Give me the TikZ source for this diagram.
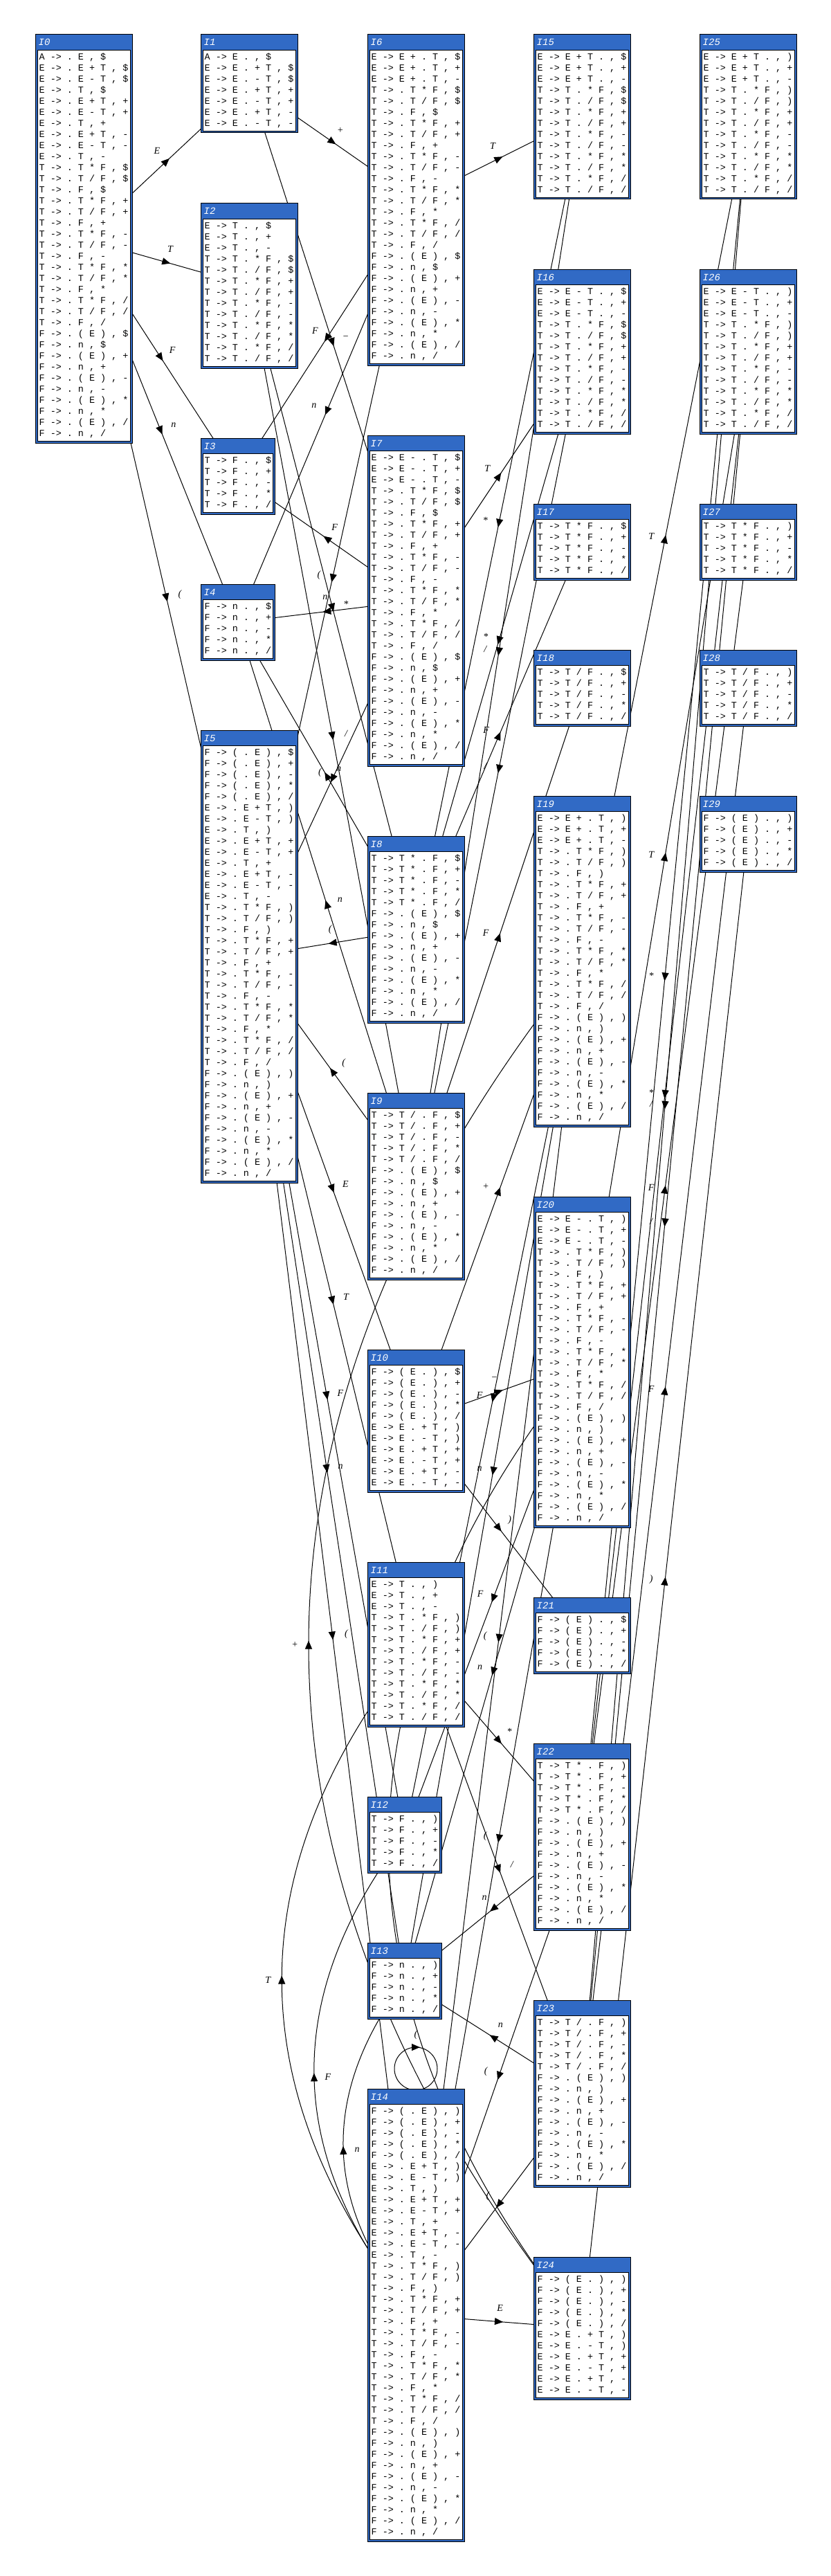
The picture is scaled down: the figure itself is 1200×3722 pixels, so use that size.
\documentclass[tikz,border=0pt]{standalone}
\usepackage{fontspec}
\usetikzlibrary{arrows.meta,calc}
\newfontfamily\monofont{Liberation Mono}
\newfontfamily\labfont{Liberation Serif}
\definecolor{hdr}{RGB}{49,106,197}
\frenchspacing
% lookahead groups
\newcommand\lkC[1]{#1{\$}\\#1{+}\\#1{-}}
\newcommand\lkCb[1]{#1{)}\\#1{+}\\#1{-}}
\newcommand\lkF[1]{#1{\$}\\#1{+}\\#1{-}\\#1{*}\\#1{/}}
\newcommand\lkFb[1]{#1{)}\\#1{+}\\#1{-}\\#1{*}\\#1{/}}
% closures
\newcommand\qE[1]{E -> . E + T , #1\\E -> . E - T , #1\\E -> . T , #1}
\newcommand\qT[1]{T -> . T * F , #1\\T -> . T / F , #1\\T -> . F , #1}
\newcommand\qF[1]{F -> . ( E ) , #1\\F -> . n , #1}
% kernels
\newcommand\qa[1]{E -> E . + T , #1\\E -> E . - T , #1}
\newcommand\qb[1]{E -> T . , #1}
\newcommand\qc[1]{T -> T . * F , #1\\T -> T . / F , #1}
\newcommand\qd[1]{T -> F . , #1}
\newcommand\qe[1]{F -> n . , #1}
\newcommand\qf[1]{F -> ( . E ) , #1}
\newcommand\qg[1]{E -> E + . T , #1}
\newcommand\qh[1]{E -> E - . T , #1}
\newcommand\qi[1]{T -> T * . F , #1}
\newcommand\qj[1]{T -> T / . F , #1}
\newcommand\qk[1]{F -> ( E . ) , #1}
\newcommand\ql[1]{E -> E + T . , #1}
\newcommand\qm[1]{E -> E - T . , #1}
\newcommand\qn[1]{T -> T * F . , #1}
\newcommand\qo[1]{T -> T / F . , #1}
\newcommand\qp[1]{F -> ( E ) . , #1}
\tikzset{
  statebox/.style={draw=black, fill=hdr, line width=1pt, inner sep=0pt, outer sep=0pt, rectangle},
  titletext/.style={text=white, font=\monofont\itshape\fontsize{14}{16}\selectfont, inner sep=0pt},
  itemtext/.style={font=\monofont\fontsize{13.4}{16}\selectfont, align=left, inner sep=0pt},
  edgeline/.style={line width=1pt},
  tiparrow/.style={-{Triangle[length=12pt,width=10pt]}, line width=1pt},
  lab/.style={font=\labfont\itshape\fontsize{14}{14}\selectfont, inner sep=0pt}
}
\pgfdeclarelayer{bg}
\pgfdeclarelayer{paper}
\pgfsetlayers{paper,bg,main}
% name, x, y, lines, width, content
\newcommand\lrstate[6]{%
  \node[statebox, minimum width=#5, minimum height={30+16*#4}, anchor=north west] (#1) at (#2,#3) {};
  \draw[fill=white, line width=0.8pt] ([xshift=3pt,yshift=-22pt]#1.north west) rectangle ([xshift=-3pt,yshift=3pt]#1.south east);
  \node[titletext, anchor=base west] at ([xshift=4.5pt,yshift=-16pt]#1.north west) {#1};
  \node[itemtext, anchor=north west] at ([xshift=5.5pt,yshift=-24.5pt]#1.north west) {\rule{0pt}{12pt}#6};
}
% arrow head + label at (tmpm), direction from #1 to #2
\newcommand\headlab[3]{%
  \draw[tiparrow] let \p1=($(#2.center)-(#1.center)$), \n1={atan2(\y1,\x1)},
    \n2={cos(\n1)>0.001 ? \n1+90 : (cos(\n1)<-0.001 ? \n1-90 : 180)} in
    ($(tmpm)+(\n1:-6pt)$) -- ($(tmpm)+(\n1:6pt)$)
    node[lab] at ($(tmpm)+(\n2:20pt)$) {#3};
}
% straight transition: from, to, label
\newcommand\sedge[3]{%
  \draw[edgeline] (#1.center) -- (#2.center);
  \coordinate (tmpm) at ($(#1.center)!0.5!(#2.center)$);
  \headlab{#1}{#2}{#3}
}
% curved transition (same column), bulging left
\newcommand\cedge[3]{%
  \coordinate (tmpa) at ($(#1.center)!0.3333!(#2.center)$);
  \coordinate (tmpb) at ($(#1.center)!0.6667!(#2.center)$);
  \coordinate (tmpc) at ($(tmpa)!0.4!90:(#2.center)$);
  \coordinate (tmpd) at ($(tmpb)!0.8!90:(#2.center)$);
  \draw[edgeline] (#1.center) .. controls (tmpc) and (tmpd) .. (#2.center);
  \coordinate (tmpe) at ($(#1.center)!0.5!(#2.center)$);
  \coordinate (tmpm) at ($(tmpe)!0.4!90:(#2.center)$);
  \headlab{#1}{#2}{#3}
}
\begin{document}
\begin{tikzpicture}[x=1pt,y=-1pt]
\useasboundingbox (0,0) rectangle (1200,3722);
\begin{pgfonlayer}{paper}
\fill[white] (0,0) rectangle (1200,3722);
\end{pgfonlayer}
\lrstate{I0}{51}{50}{35}{140}{A -> . E , \$\\\lkC\qE\\\lkF\qT\\\lkF\qF}
\lrstate{I1}{290}{50}{7}{140}{A -> E . , \$\\\lkC\qa}
\lrstate{I2}{290}{294}{13}{140}{\lkC\qb\\\lkF\qc}
\lrstate{I3}{290}{633}{5}{107}{\lkF\qd}
\lrstate{I4}{290}{844}{5}{107}{\lkF\qe}
\lrstate{I5}{290}{1055}{39}{140}{\lkF\qf\\\lkCb\qE\\\lkFb\qT\\\lkFb\qF}
\lrstate{I6}{531}{50}{28}{140}{\lkC\qg\\\lkF\qT\\\lkF\qF}
\lrstate{I7}{531}{629}{28}{140}{\lkC\qh\\\lkF\qT\\\lkF\qF}
\lrstate{I8}{531}{1208}{15}{140}{\lkF\qi\\\lkF\qF}
\lrstate{I9}{531}{1579}{15}{140}{\lkF\qj\\\lkF\qF}
\lrstate{I10}{531}{1950}{11}{140}{\lkF\qk\\\lkCb\qa}
\lrstate{I11}{531}{2257}{13}{140}{\lkCb\qb\\\lkFb\qc}
\lrstate{I12}{531}{2596}{5}{107}{\lkFb\qd}
\lrstate{I13}{531}{2807}{5}{107}{\lkFb\qe}
\lrstate{I14}{531}{3018}{39}{140}{\lkFb\qf\\\lkCb\qE\\\lkFb\qT\\\lkFb\qF}
\lrstate{I15}{771}{50}{13}{140}{\lkC\ql\\\lkF\qc}
\lrstate{I16}{771}{389}{13}{140}{\lkC\qm\\\lkF\qc}
\lrstate{I17}{771}{728}{5}{140}{\lkF\qn}
\lrstate{I18}{771}{939}{5}{140}{\lkF\qo}
\lrstate{I19}{771}{1150}{28}{140}{\lkCb\qg\\\lkFb\qT\\\lkFb\qF}
\lrstate{I20}{771}{1729}{28}{140}{\lkCb\qh\\\lkFb\qT\\\lkFb\qF}
\lrstate{I21}{771}{2308}{5}{140}{\lkF\qp}
\lrstate{I22}{771}{2519}{15}{140}{\lkFb\qi\\\lkFb\qF}
\lrstate{I23}{771}{2890}{15}{140}{\lkFb\qj\\\lkFb\qF}
\lrstate{I24}{771}{3261}{11}{140}{\lkFb\qk\\\lkCb\qa}
\lrstate{I25}{1011}{50}{13}{140}{\lkCb\ql\\\lkFb\qc}
\lrstate{I26}{1011}{389}{13}{140}{\lkCb\qm\\\lkFb\qc}
\lrstate{I27}{1011}{728}{5}{140}{\lkFb\qn}
\lrstate{I28}{1011}{939}{5}{140}{\lkFb\qo}
\lrstate{I29}{1011}{1150}{5}{140}{\lkFb\qp}
\begin{pgfonlayer}{bg}
\sedge{I0}{I1}{E}
\sedge{I0}{I2}{T}
\sedge{I0}{I3}{F}
\sedge{I0}{I4}{n}
\sedge{I0}{I5}{(}
\sedge{I1}{I6}{+}
\sedge{I1}{I7}{−}
\sedge{I2}{I8}{*}
\sedge{I2}{I9}{/}
\sedge{I5}{I10}{E}
\sedge{I5}{I11}{T}
\sedge{I5}{I12}{F}
\sedge{I5}{I13}{n}
\sedge{I5}{I14}{(}
\sedge{I6}{I15}{T}
\sedge{I6}{I3}{F}
\sedge{I6}{I4}{n}
\sedge{I6}{I5}{(}
\sedge{I7}{I16}{T}
\sedge{I7}{I3}{F}
\sedge{I7}{I4}{n}
\sedge{I7}{I5}{(}
\sedge{I8}{I17}{F}
\sedge{I8}{I4}{n}
\sedge{I8}{I5}{(}
\sedge{I9}{I18}{F}
\sedge{I9}{I4}{n}
\sedge{I9}{I5}{(}
\sedge{I10}{I21}{)}
\sedge{I10}{I19}{+}
\sedge{I10}{I20}{−}
\sedge{I11}{I22}{*}
\sedge{I11}{I23}{/}
\sedge{I14}{I24}{E}
\sedge{I15}{I8}{*}
\sedge{I15}{I9}{/}
\sedge{I16}{I8}{*}
\sedge{I16}{I9}{/}
\sedge{I19}{I25}{T}
\sedge{I19}{I12}{F}
\sedge{I19}{I13}{n}
\sedge{I19}{I14}{(}
\sedge{I20}{I26}{T}
\sedge{I20}{I12}{F}
\sedge{I20}{I13}{n}
\sedge{I20}{I14}{(}
\sedge{I22}{I27}{F}
\sedge{I22}{I13}{n}
\sedge{I22}{I14}{(}
\sedge{I23}{I28}{F}
\sedge{I23}{I13}{n}
\sedge{I23}{I14}{(}
\sedge{I24}{I29}{)}
\sedge{I25}{I22}{*}
\sedge{I25}{I23}{/}
\sedge{I26}{I22}{*}
\sedge{I26}{I23}{/}
\cedge{I14}{I11}{T}
\cedge{I14}{I12}{F}
\cedge{I14}{I13}{n}
\cedge{I24}{I19}{+}
\cedge{I24}{I20}{−}
% self loop on I14
\draw[edgeline] ([yshift=29pt]I14.north) circle[radius=31pt];
\draw[tiparrow] ([xshift=-6pt,yshift=60pt]I14.north) -- ([xshift=6pt,yshift=60pt]I14.north);
\node[lab] at ([yshift=78pt]I14.north) {(};
\end{pgfonlayer}
\end{tikzpicture}
\end{document}
